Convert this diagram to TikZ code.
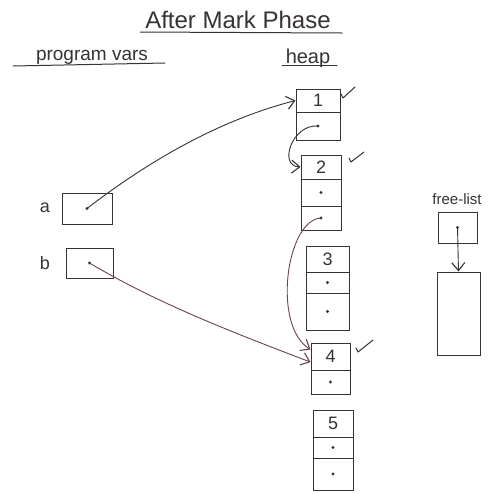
\documentclass[tikz,border=0pt]{standalone}
\usepackage{fontspec}
\setmainfont{Liberation Sans}
\usetikzlibrary{arrows.meta,calc}
\definecolor{ink}{RGB}{55,50,52}
\definecolor{inkred}{RGB}{105,68,74}
\begin{document}
\begin{tikzpicture}[x=1pt,y=-1pt,line width=1pt,color=ink,
  cell/.style={draw=ink,inner sep=0pt,font=\fontsize{18}{18}\selectfont},
  label/.style={inner sep=0pt,text=ink},
  ptr/.style={-{Straight Barb[length=8pt,width=13pt,line width=1.1pt]},line width=0.9pt},
  tick/.style={line width=1pt,line cap=round,line join=round},
  rule/.style={line width=1pt,line cap=round}]
\useasboundingbox[fill=white] (0,0) rectangle (497,493);

% headings
\node[label,font=\fontsize{24}{24}\selectfont] (title) at (238,20) {After Mark Phase};
\draw[rule] (140,32) -- (342,33);
\node[label,font=\fontsize{19}{19}\selectfont] (vars) at (92,57) {program vars};
\draw[rule] (13,66) -- (165,63);
\node[label,font=\fontsize{20}{20}\selectfont] (heap) at (308,58) {heap};
\draw[rule] (282,65) -- (337,65);

% program variables
\node[label,font=\fontsize{18}{18}\selectfont] (la) at (45,208) {a};
\node[cell,minimum width=50pt,minimum height=31pt] (a) at (87,208.5) {};
\node[label,font=\fontsize{18}{18}\selectfont] (lb) at (45,263) {b};
\node[cell,minimum width=47pt,minimum height=30pt] (b) at (89.5,263) {};

% heap block 1
\node[cell,minimum width=44pt,minimum height=23pt] (h1a) at (318,100.5) {1};
\node[cell,minimum width=44pt,minimum height=28pt] (h1b) at (318,126) {};
% heap block 2
\node[cell,minimum width=40pt,minimum height=24pt] (h2a) at (321,167) {2};
\node[cell,minimum width=40pt,minimum height=27pt] (h2b) at (321,192.5) {};
\node[cell,minimum width=40pt,minimum height=24pt] (h2c) at (321,218) {};
% heap block 3
\node[cell,minimum width=43pt,minimum height=26pt] (h3a) at (327.5,259) {3};
\node[cell,minimum width=43pt,minimum height=21pt] (h3b) at (327.5,282.5) {};
\node[cell,minimum width=43pt,minimum height=37pt] (h3c) at (327.5,311.5) {};
% heap block 4
\node[cell,minimum width=39pt,minimum height=27pt] (h4a) at (330.5,356.5) {4};
\node[cell,minimum width=39pt,minimum height=24pt] (h4b) at (330.5,382) {};
% heap block 5
\node[cell,minimum width=40pt,minimum height=27pt] (h5a) at (333,423.5) {5};
\node[cell,minimum width=40pt,minimum height=21pt] (h5b) at (333,447.5) {};
\node[cell,minimum width=40pt,minimum height=32pt] (h5c) at (333,474) {};

% free list
\node[label,font=\fontsize{15}{15}\selectfont] (fltext) at (457,199) {free-list};
\node[cell,minimum width=39pt,minimum height=31pt] (fl) at (457.5,227.5) {};
\node[cell,minimum width=43pt,minimum height=83pt] (fb) at (458.5,313.5) {};

% pointer dots
\foreach \c in {a,b,h1b,h2b,h2c,h3b,h3c,h4b,h5b,h5c,fl}
  \fill (\c.center) circle (1.6pt);

% pointers
\draw[ptr] (a.center) .. controls (150,160) and (220,120) .. (h1a.west);
\draw[ptr] (h1b.center) .. controls (292,124) and (278,166) .. (h2a.west);
\draw[ptr,inkred] (h2c.center) .. controls (286,220) and (272,326) .. ($(h4a.west)!0.5!(h4a.north west)$);
\draw[ptr,inkred] (b.center) .. controls (160,305) and (240,335) .. ($(h4a.west)!0.4!(h4a.south west)$);
\draw[ptr] (fl.center) -- (fb.north);

% mark bits
\draw[tick] (341,94) -- (343,98) -- (355,87);
\draw[tick] (349,158) -- (351,162) -- (364,152);
\draw[tick] (356,348) -- (358,352) -- (373,340);
\end{tikzpicture}
\end{document}
